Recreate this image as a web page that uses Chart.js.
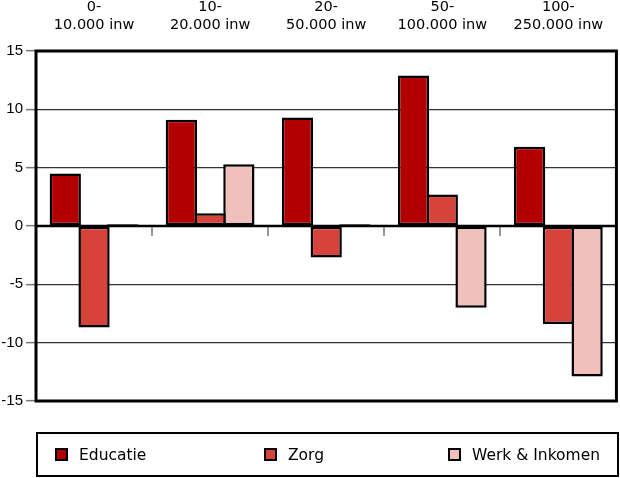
<!DOCTYPE html>
<html>
<head>
<meta charset="utf-8">
<script src="https://cdn.jsdelivr.net/npm/chart.js@4.4.0/dist/chart.umd.min.js"></script>
<style>
  html, body { margin: 0; padding: 0; background: #fff; }
  #wrap { position: relative; width: 620px; height: 478px; }
  #c { position: absolute; left: 0; top: 0; }
  #legend {
    position: absolute; left: 36px; top: 432px; width: 583px; height: 45px;
    border: 2px solid #000; box-sizing: border-box;
    font-family: "DejaVu Sans", sans-serif; font-size: 15.5px; color: #000;
  }
  .item { position: absolute; top: 0; height: 41px; display: flex; align-items: center; }
  .sw { width: 13px; height: 13px; border: 2px solid #000; box-sizing: border-box; margin-right: 11px; }
</style>
</head>
<body>
<div id="wrap">
  <canvas id="c" width="620" height="478"></canvas>
  <div id="legend"></div>
</div>
<script>
// ---- data ----
const categories = [
  ['0-', '10.000 inw'],
  ['10-', '20.000 inw'],
  ['20-', '50.000 inw'],
  ['50-', '100.000 inw'],
  ['100-', '250.000 inw']
];
const seriesNames = ['Educatie', 'Zorg', 'Werk & Inkomen'];
const educatie = [4.5, 9.1, 9.3, 12.9, 6.8];
const zorg = [-8.7, 1.1, -2.7, 2.7, -8.4];
const werkInkomen = [0.15, 5.3, 0.15, -7.0, -12.9];
const yTicks = [-15, -10, -5, 0, 5, 10, 15];

const colors = ['#B20000', '#D5433B', '#F1C0BD'];
const values = [educatie, zorg, werkInkomen];

const datasets = seriesNames.map((name, i) => ({
  label: name,
  data: values[i],
  backgroundColor: colors[i],
  borderColor: '#000',
  borderWidth: 2.5,
  borderSkipped: false,
  categoryPercentage: 0.743,
  barPercentage: 1.087
}));

const framePlugin = {
  id: 'frame',
  afterDatasetsDraw(chart) {
    const { ctx, chartArea: a, scales } = chart;
    const x = scales.x, y = scales.y;
    const y0 = y.getPixelForValue(0);
    ctx.save();
    // category boundary ticks at zero line
    ctx.strokeStyle = '#777';
    ctx.lineWidth = 1.5;
    for (let i = 1; i < categories.length; i++) {
      const bx = Math.round((x.getPixelForValue(i - 1) + x.getPixelForValue(i)) / 2);
      ctx.beginPath();
      ctx.moveTo(bx, y0);
      ctx.lineTo(bx, y0 + 10);
      ctx.stroke();
    }
    // zero line
    ctx.strokeStyle = '#000';
    ctx.lineWidth = 2.5;
    ctx.beginPath();
    ctx.moveTo(a.left, y0);
    ctx.lineTo(a.right, y0);
    ctx.stroke();
    // plot frame
    ctx.lineWidth = 3;
    ctx.strokeRect(a.left, a.top, a.right - a.left, a.bottom - a.top);
    ctx.restore();
  }
};

new Chart(document.getElementById('c'), {
  type: 'bar',
  data: { labels: categories, datasets },
  options: {
    responsive: false,
    animation: false,
    layout: { padding: { top: 0, left: 0, right: 2, bottom: 77 } },
    plugins: { legend: { display: false }, tooltip: { enabled: false } },
    scales: {
      x: {
        position: 'top',
        grid: { display: false, drawTicks: false },
        border: { display: false },
        ticks: {
          color: '#000',
          padding: 16.6,
          maxRotation: 0,
          autoSkip: false,
          font: { family: 'DejaVu Sans', size: 14.5, lineHeight: 1.24 }
        },
        afterFit(s) { s.height = 51; }
      },
      y: {
        min: -15, max: 15,
        afterBuildTicks(s) { s.ticks = yTicks.map(v => ({ value: v })); },
        grid: {
          color: '#333',
          lineWidth: 1.3,
          tickColor: '#777',
          tickWidth: 1.5,
          tickLength: 10
        },
        border: { display: false },
        ticks: {
          color: '#000',
          padding: 3,
          font: { family: 'Liberation Sans', size: 15 }
        },
        afterFit(s) { s.width = 36; }
      }
    }
  },
  plugins: [framePlugin]
});

// HTML legend built from series names and colours
const legendLeft = [17, 226, 410];
const legend = document.getElementById('legend');
seriesNames.forEach((name, i) => {
  const it = document.createElement('div');
  it.className = 'item';
  it.style.left = legendLeft[i] + 'px';
  const sw = document.createElement('div');
  sw.className = 'sw';
  sw.style.background = colors[i];
  const tx = document.createElement('span');
  tx.textContent = name;
  it.appendChild(sw);
  it.appendChild(tx);
  legend.appendChild(it);
});
</script>
</body>
</html>
